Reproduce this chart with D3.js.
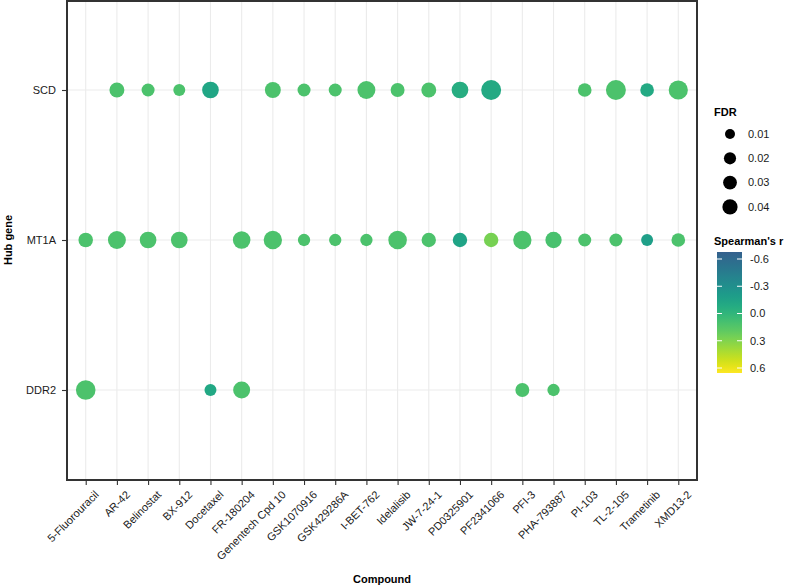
<!DOCTYPE html>
<html>
<head>
  <meta charset="utf-8">
  <title></title>
  <style>
    body { margin: 0; background: #fff; }
    text { font-family: "Liberation Sans", Arial, sans-serif; }
  </style>
</head>
<body>
  <script src="https://d3js.org/d3.v7.min.js" charset="utf-8"></script>
  <script type="text/javascript">
    var compounds = ["5-Fluorouracil", "AR-42", "Belinostat", "BX-912", "Docetaxel", "FR-180204",
      "Genentech Cpd 10", "GSK1070916", "GSK429286A", "I-BET-762", "Idelalisib", "JW-7-24-1",
      "PD0325901", "PF2341066", "PFI-3", "PHA-793887", "PI-103", "TL-2-105", "Trametinib", "XMD13-2"];
    var genes = ["SCD", "MT1A", "DDR2"];

    // FDR per compound (null = not shown)
    var scdFDR = [null, 0.038, 0.025, 0.019, 0.052, null, 0.046, 0.025, 0.025, 0.064, 0.031, 0.038,
      0.052, 0.085, null, null, 0.029, 0.085, 0.029, 0.077];
    var mt1aFDR = [0.035, 0.064, 0.052, 0.052, null, 0.060, 0.068, 0.021, 0.021, 0.021, 0.070, 0.034,
      0.034, 0.034, 0.068, 0.049, 0.025, 0.025, 0.019, 0.029];
    var ddr2FDR = [0.081, null, null, null, 0.019, 0.055, null, null, null, null, null, null,
      null, null, 0.031, 0.021, null, null, null, null];

    // Spearman's r per compound
    var scdR = [null, 0.12, 0.12, 0.12, -0.12, null, 0.12, 0.12, 0.12, 0.12, 0.12, 0.12,
      -0.06, -0.1, null, null, 0.12, 0.12, -0.1, 0.12];
    var mt1aR = [0.12, 0.12, 0.12, 0.12, null, 0.12, 0.12, 0.12, 0.12, 0.12, 0.12, 0.12,
      -0.14, 0.27, 0.12, 0.1, 0.12, 0.12, -0.18, 0.12];
    var ddr2R = [0.12, null, null, null, -0.11, 0.12, null, null, null, null, null, null,
      null, null, 0.12, 0.12, null, null, null, null];

    var fdrBreaks = [0.01, 0.02, 0.03, 0.04];
    var rBreaks = [-0.6, -0.3, 0.0, 0.3, 0.6];

    var fdrByGene = { SCD: scdFDR, MT1A: mt1aFDR, DDR2: ddr2FDR };
    var rByGene = { SCD: scdR, MT1A: mt1aR, DDR2: ddr2R };
    var points = [];
    genes.forEach(function(g) {
      compounds.forEach(function(c, i) {
        if (fdrByGene[g][i] != null) {
          points.push({ gene: g, compound: c, fdr: fdrByGene[g][i], r: rByGene[g][i] });
        }
      });
    });

    var width = 787, height = 588;
    var pLeft = 67, pRight = 697, pTop = 0, pBottom = 480;

    var svg = d3.select("body").append("svg")
      .attr("width", width)
      .attr("height", height);

    var x = d3.scalePoint().domain(compounds).range([pLeft, pRight]).padding(0.6);
    var y = d3.scalePoint().domain(genes).range([pTop, pBottom]).padding(0.6);
    var size = d3.scaleSqrt().domain([0.01, 0.04]).range([5, 7.6]);
    var rLo = -0.68, rHi = 0.66;
    var colorT = d3.scaleLinear().domain([rLo, rHi]).range([0.3, 1]);
    function color(v) { return d3.interpolateViridis(colorT(v)); }

    // grid
    svg.append("g").selectAll("line").data(compounds).join("line")
      .attr("x1", function(d) { return x(d); }).attr("x2", function(d) { return x(d); })
      .attr("y1", pTop).attr("y2", pBottom)
      .attr("stroke", "#ebebeb").attr("stroke-width", 1.1);
    svg.append("g").selectAll("line").data(genes).join("line")
      .attr("x1", pLeft).attr("x2", pRight)
      .attr("y1", function(d) { return y(d); }).attr("y2", function(d) { return y(d); })
      .attr("stroke", "#ebebeb").attr("stroke-width", 1.1);

    // points
    svg.append("g").selectAll("circle").data(points).join("circle")
      .attr("cx", function(d) { return x(d.compound); })
      .attr("cy", function(d) { return y(d.gene); })
      .attr("r", function(d) { return size(d.fdr); })
      .attr("fill", function(d) { return color(d.r); });

    // panel border
    svg.append("rect")
      .attr("x", pLeft).attr("y", pTop + 1)
      .attr("width", pRight - pLeft).attr("height", pBottom - pTop - 1)
      .attr("fill", "none").attr("stroke", "#333").attr("stroke-width", 2);

    // axes
    var xAxis = svg.append("g")
      .attr("transform", "translate(0," + pBottom + ")")
      .call(d3.axisBottom(x).tickSize(5).tickPadding(3));
    xAxis.select(".domain").remove();
    xAxis.selectAll(".tick line").attr("stroke", "#333").attr("stroke-width", 1.1);
    xAxis.selectAll(".tick text")
      .attr("font-size", 11).attr("fill", "#1a1a1a")
      .attr("text-anchor", "end")
      .attr("transform", "translate(3,5) rotate(-45)")
      .attr("dy", "0.6em");

    var yAxis = svg.append("g")
      .attr("transform", "translate(" + pLeft + ",0)")
      .call(d3.axisLeft(y).tickSize(5).tickPadding(6));
    yAxis.select(".domain").remove();
    yAxis.selectAll(".tick line").attr("stroke", "#333").attr("stroke-width", 1.1);
    yAxis.selectAll(".tick text").attr("font-size", 11).attr("fill", "#1a1a1a");

    svg.append("text")
      .attr("x", (pLeft + pRight) / 2).attr("y", 583)
      .attr("text-anchor", "middle").attr("font-size", 11).attr("font-weight", "bold")
      .text("Compound");
    svg.append("text")
      .attr("transform", "translate(12," + (pTop + pBottom) / 2 + ") rotate(-90)")
      .attr("text-anchor", "middle").attr("font-size", 11).attr("font-weight", "bold")
      .text("Hub gene");

    // size legend
    var sizeLeg = svg.append("g");
    sizeLeg.append("text")
      .attr("x", 714).attr("y", 116)
      .attr("font-size", 11).attr("font-weight", "bold").text("FDR");
    var sl = sizeLeg.selectAll("g").data(fdrBreaks).join("g")
      .attr("transform", function(d, i) { return "translate(730," + (134 + i * 24.3) + ")"; });
    sl.append("circle").attr("r", function(d) { return size(d); }).attr("fill", "#000");
    sl.append("text").attr("x", 18).attr("dy", "0.35em")
      .attr("font-size", 11).attr("fill", "#1a1a1a").text(function(d) { return d3.format(".2f")(d); });

    // colour legend
    var barTop = 252, barBottom = 373, barX = 717, barW = 25;
    var cy = d3.scaleLinear().domain([-0.6, 0.6]).range([259, 368]);
    var defs = svg.append("defs");
    var grad = defs.append("linearGradient").attr("id", "rgrad")
      .attr("x1", 0).attr("y1", 0).attr("x2", 0).attr("y2", 1);
    var lo = cy.invert(barTop), hi = cy.invert(barBottom);
    d3.range(0, 1.0001, 0.05).forEach(function(f) {
      grad.append("stop").attr("offset", f).attr("stop-color", color(lo + f * (hi - lo)));
    });
    svg.append("text")
      .attr("x", 714).attr("y", 245)
      .attr("font-size", 11).attr("font-weight", "bold").text("Spearman's r");
    svg.append("rect")
      .attr("x", barX).attr("y", barTop).attr("width", barW).attr("height", barBottom - barTop)
      .attr("fill", "url(#rgrad)");
    var cl = svg.append("g").selectAll("g").data(rBreaks).join("g")
      .attr("transform", function(d) { return "translate(0," + cy(d) + ")"; });
    cl.append("line").attr("x1", barX).attr("x2", barX + 5).attr("stroke", "#fff").attr("stroke-width", 1);
    cl.append("line").attr("x1", barX + barW - 5).attr("x2", barX + barW).attr("stroke", "#fff").attr("stroke-width", 1);
    cl.append("text").attr("x", 750).attr("dy", "0.35em")
      .attr("font-size", 11).attr("fill", "#1a1a1a")
      .text(function(d) { return d3.format(".1f")(d).replace("\u2212", "-"); });
  </script>
</body>
</html>
